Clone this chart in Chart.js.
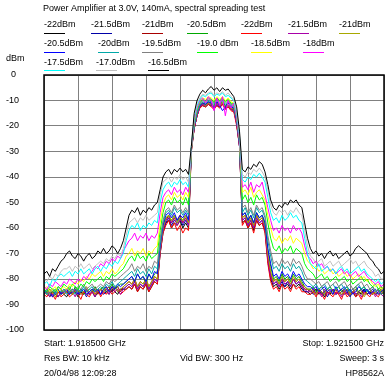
<!DOCTYPE html>
<html>
<head>
<meta charset="utf-8">
<script src="https://cdn.jsdelivr.net/npm/chart.js@4"></script>
<style>
html, body { margin: 0; padding: 0; background: #fff; }
canvas { display: block; }
</style>
</head>
<body>
<canvas id="chart" width="392" height="381"></canvas>
<script>
// sweep: 1.9185 GHz .. 1.9215 GHz, one point every 25 kHz (121 points)
const startKHz = 0, stopKHz = 3000, pointStepKHz = 25;
const yTicks = [0, -10, -20, -30, -40, -50, -60, -70, -80, -90, -100];

const title = "Power Amplifier at 3.0V, 140mA, spectral spreading test";
const names = ["-22dBm", "-21.5dBm", "-21dBm", "-20.5dBm", "-22dBm", "-21.5dBm", "-21dBm",
  "-20.5dBm", "-20dBm", "-19.5dBm", "-19.0 dBm", "-18.5dBm", "-18dBm",
  "-17.5dBm", "-17.0dBm", "-16.5dBm"];
const colors = ["#000000", "#0000a8", "#a80000", "#00a800", "#ff0000", "#a800a8", "#a8a800",
  "#0000ff", "#00a8a8", "#808080", "#00ff00", "#ffff00", "#ff00ff",
  "#00ffff", "#c0c0c0", "#000000"];

// dBm
const trace1 = [
  -86, -85, -87, -85, -86, -87, -85, -86,
  -87, -85, -86, -85, -87, -85, -86, -84, -86, -85, -87, -85, -86, -84, -85, -86, -84, -85, -86, -84, -84,
  -84, -83, -84, -82, -85, -83, -84, -82, -85, -83, -81, -82, -70, -62,
  -58, -57, -60, -58, -59, -57, -60, -58, -60, -30,
  -21, -16, -12.5, -12, -12.5, -11.5, -12, -13, -12, -12.5, -11.5, -13, -12.5, -13.5, -14, -19, -28,
  -58, -57, -60, -58, -61, -57, -59, -58, -61, -73, -80,
  -83, -82, -84, -82, -83, -82, -84, -82, -83, -82, -84, -85, -85,
  -86, -85, -84, -86, -85, -87, -85, -86, -84, -86, -85, -86, -85, -84, -86, -85, -87, -85, -86, -84, -86, -85, -86, -85, -84, -86, -85];
const trace2 = [
  -85, -86, -85, -87, -86, -85, -84, -86,
  -85, -86, -84, -85, -86, -84, -85, -87, -85, -84, -86, -85, -84, -86, -85, -84, -85, -83, -85, -84, -84,
  -83, -82, -83, -81, -84, -82, -83, -81, -84, -82, -80, -81, -69, -61,
  -58, -56, -59, -57, -58, -56, -59, -57, -59, -29,
  -21, -16, -12.5, -11.5, -12, -11, -11.5, -13, -11.5, -12.5, -11, -13, -12, -13.5, -13.5, -19, -28,
  -57, -56, -59, -57, -60, -56, -58, -57, -60, -72, -79,
  -82, -81, -83, -81, -83, -81, -83, -80, -82, -81, -83, -85, -85,
  -84, -86, -85, -84, -86, -85, -87, -85, -84, -86, -85, -84, -86, -85, -87, -85, -84, -86, -85, -84, -86, -85, -84, -86, -85, -84, -86];
const trace3 = [
  -86, -85, -84, -86, -85, -84, -86, -85,
  -84, -86, -84, -85, -84, -86, -85, -84, -86, -85, -84, -86, -84, -85, -84, -83, -85, -84, -83, -85, -83,
  -82, -81, -82, -80, -83, -81, -82, -80, -83, -81, -79, -80, -68, -60,
  -57, -55, -58, -56, -57, -55, -58, -56, -58, -29,
  -21, -16, -12, -11, -11.5, -11, -11.5, -12.5, -11, -12, -11, -12.5, -12, -13, -13.5, -18, -27,
  -56, -55, -58, -56, -59, -55, -57, -56, -59, -71, -78,
  -81, -80, -82, -80, -81, -80, -82, -80, -81, -80, -82, -84, -84,
  -85, -84, -86, -84, -85, -86, -84, -85, -86, -84, -86, -85, -84, -86, -85, -84, -86, -85, -84, -86, -85, -84, -86, -85, -84, -86, -85];
const trace4 = [
  -85, -84, -86, -85, -84, -85, -86, -84,
  -85, -84, -86, -83, -85, -84, -86, -85, -84, -85, -83, -85, -84, -83, -85, -84, -82, -84, -83, -82, -82,
  -81, -80, -79, -81, -78, -80, -79, -82, -78, -80, -78, -77, -67, -59,
  -56, -55, -57, -55, -57, -56, -57, -55, -57, -29,
  -20, -15, -12, -11, -11.5, -10.5, -11, -12, -10.5, -11.5, -10.5, -12, -11, -12.5, -13, -18, -27,
  -55, -54, -57, -55, -58, -54, -56, -55, -58, -69, -75,
  -80, -79, -81, -78, -80, -79, -81, -78, -80, -79, -81, -83, -84,
  -84, -83, -85, -84, -83, -85, -84, -83, -85, -84, -83, -85, -84, -83, -85, -84, -83, -85, -84, -83, -85, -84, -83, -85, -84, -85, -84];
const trace5 = [
  -86, -87, -85, -86, -88, -85, -87, -86,
  -85, -87, -86, -84, -86, -88, -85, -86, -87, -85, -86, -84, -87, -85, -86, -84, -86, -85, -84, -86, -85,
  -84, -83, -84, -82, -85, -83, -84, -82, -85, -83, -81, -82, -70, -62,
  -59, -57, -60, -58, -61, -59, -62, -60, -61, -30,
  -21, -16, -13, -12, -12.5, -11.5, -12.5, -13.5, -12, -13, -11.5, -13.5, -12.5, -14, -14.5, -20, -28,
  -59, -57, -60, -58, -62, -57, -59, -58, -62, -74, -81,
  -84, -83, -85, -82, -84, -83, -85, -82, -84, -83, -85, -85, -86,
  -86, -85, -87, -85, -86, -88, -85, -86, -87, -85, -86, -88, -85, -87, -86, -85, -87, -86, -88, -85, -86, -87, -85, -86, -87, -85, -86];
const trace6 = [
  -86, -85, -87, -86, -85, -87, -85, -86,
  -84, -86, -85, -87, -84, -86, -85, -84, -86, -85, -87, -84, -86, -85, -84, -86, -83, -85, -84, -86, -84,
  -83, -82, -83, -81, -84, -82, -83, -81, -84, -82, -80, -81, -69, -61,
  -57, -56, -58, -56, -59, -57, -58, -56, -59, -29,
  -21, -16, -12.5, -11.5, -12, -11, -12, -13, -11.5, -12.5, -11, -13, -12, -13.5, -14, -19, -28,
  -57, -56, -59, -57, -60, -56, -58, -57, -60, -72, -79,
  -82, -81, -83, -80, -82, -81, -83, -80, -82, -81, -83, -84, -85,
  -85, -84, -86, -85, -87, -84, -86, -85, -84, -86, -85, -87, -84, -86, -85, -84, -86, -85, -87, -85, -84, -86, -85, -87, -85, -86, -87];
const trace7 = [
  -85, -86, -84, -85, -87, -85, -84, -86,
  -85, -84, -86, -85, -84, -86, -85, -83, -85, -84, -86, -85, -84, -85, -83, -85, -84, -83, -85, -84, -83,
  -82, -81, -82, -80, -83, -81, -82, -80, -83, -81, -79, -80, -68, -60,
  -56, -55, -57, -55, -58, -56, -57, -55, -58, -29,
  -20, -15, -12, -11, -12, -11, -11.5, -12.5, -11, -12, -11, -12.5, -12, -13, -13.5, -18, -27,
  -56, -55, -58, -56, -59, -55, -57, -56, -59, -70, -77,
  -81, -80, -82, -79, -81, -80, -82, -79, -81, -80, -82, -83, -84,
  -84, -85, -86, -84, -85, -86, -84, -85, -86, -84, -85, -86, -85, -84, -86, -85, -84, -86, -85, -87, -85, -84, -86, -85, -86, -84, -86];
const trace8 = [
  -86, -84, -85, -87, -85, -84, -86, -85,
  -84, -86, -85, -84, -86, -85, -84, -86, -85, -84, -85, -84, -86, -84, -83, -85, -83, -84, -82, -83, -82,
  -81, -80, -79, -81, -78, -80, -79, -81, -78, -80, -77, -78, -67, -59,
  -55, -54, -56, -54, -57, -55, -56, -54, -57, -29,
  -20, -15, -12, -11, -11.5, -10.5, -11, -13, -10.5, -12, -14, -12.5, -11, -12.5, -13, -18, -27,
  -55, -54, -57, -55, -58, -54, -56, -55, -58, -68, -74,
  -79, -78, -80, -77, -79, -78, -80, -77, -79, -78, -80, -82, -83,
  -83, -84, -83, -85, -84, -83, -85, -84, -86, -83, -85, -84, -83, -85, -84, -86, -85, -83, -84, -85, -84, -86, -85, -84, -86, -85, -84];
const trace9 = [
  -84, -86, -85, -84, -86, -84, -85, -84,
  -86, -85, -84, -86, -84, -85, -83, -85, -84, -83, -85, -84, -83, -84, -82, -83, -81, -83, -82, -81, -80,
  -79, -78, -77, -79, -76, -78, -77, -79, -76, -78, -75, -76, -66, -58,
  -54, -53, -55, -52, -54, -53, -55, -53, -55, -29,
  -20, -15, -11.5, -10.5, -11, -10, -10.5, -11.5, -10, -11, -10, -11.5, -10.5, -12, -12.5, -17, -26,
  -54, -52, -55, -53, -56, -52, -54, -53, -56, -65, -71,
  -76, -75, -77, -74, -76, -75, -77, -74, -76, -75, -77, -80, -81,
  -82, -83, -82, -84, -83, -82, -84, -83, -82, -84, -83, -82, -84, -83, -85, -84, -83, -82, -84, -83, -85, -84, -83, -85, -84, -86, -85];
const trace10 = [
  -85, -84, -86, -84, -85, -83, -84, -85,
  -84, -83, -85, -84, -83, -84, -82, -84, -83, -82, -84, -83, -82, -83, -81, -82, -80, -81, -80, -79, -78,
  -77, -76, -74, -77, -75, -76, -74, -77, -75, -76, -73, -74, -64, -57,
  -53, -52, -54, -51, -53, -52, -54, -52, -54, -29,
  -19, -14, -11, -10, -10.5, -9.5, -10, -11, -9.5, -10.5, -9.5, -11, -10, -11.5, -12, -17, -26,
  -52, -51, -54, -52, -55, -51, -53, -52, -55, -63, -69,
  -74, -73, -75, -72, -74, -73, -75, -72, -74, -73, -75, -78, -80,
  -80, -81, -82, -81, -83, -82, -81, -83, -82, -81, -83, -82, -81, -83, -82, -84, -83, -82, -81, -83, -82, -84, -83, -85, -84, -83, -85];
const trace11 = [
  -84, -85, -83, -84, -85, -83, -84, -82,
  -83, -84, -82, -83, -84, -82, -83, -81, -82, -80, -81, -80, -79, -81, -79, -80, -78, -79, -78, -77, -76,
  -74, -72, -71, -73, -70, -72, -71, -73, -70, -72, -71, -70, -61, -54,
  -50, -49, -51, -48, -50, -49, -51, -48, -51, -29,
  -19, -14, -10.5, -9.5, -10, -9, -9.5, -10.5, -9, -10, -9, -10.5, -9.5, -11, -11.5, -16, -25,
  -49, -47, -50, -48, -51, -47, -49, -48, -51, -58, -64,
  -68, -69, -67, -70, -68, -69, -67, -70, -68, -69, -70, -74, -76,
  -77, -78, -80, -79, -78, -80, -79, -81, -80, -79, -81, -80, -79, -81, -80, -82, -81, -80, -79, -81, -80, -82, -83, -82, -84, -83, -84];
const trace12 = [
  -84, -83, -85, -84, -83, -85, -84, -83,
  -84, -82, -83, -81, -82, -80, -81, -79, -80, -78, -79, -78, -77, -79, -77, -78, -76, -78, -77, -75, -74,
  -71, -70, -68, -71, -69, -70, -68, -71, -69, -70, -68, -67, -58, -51,
  -48, -47, -49, -46, -48, -47, -49, -46, -48, -29,
  -18, -13, -10, -9, -9.5, -8.5, -9, -10, -8.5, -9.5, -8.5, -10, -9, -10.5, -11, -16, -25,
  -46, -45, -47, -44, -48, -46, -45, -47, -49, -55, -60,
  -64, -65, -63, -66, -64, -65, -63, -66, -64, -65, -66, -70, -73,
  -74, -76, -75, -77, -76, -78, -77, -76, -78, -77, -79, -78, -77, -79, -78, -80, -79, -78, -80, -79, -81, -80, -82, -83, -82, -84, -83];
const trace13 = [
  -83, -84, -82, -83, -81, -82, -83, -81,
  -82, -80, -81, -82, -80, -81, -79, -80, -78, -77, -75, -76, -74, -75, -73, -74, -72, -73, -71, -72, -69,
  -67, -65, -64, -62, -65, -63, -64, -62, -65, -63, -64, -62, -54, -48,
  -46, -45, -47, -44, -46, -45, -47, -44, -46, -29,
  -18, -13, -10, -9, -11, -8.5, -10, -14, -9, -12, -8.5, -16, -10, -13, -11, -16, -25,
  -44, -43, -45, -42, -46, -43, -44, -42, -47, -52, -57,
  -61, -60, -62, -59, -61, -60, -62, -59, -61, -60, -62, -67, -71,
  -72, -74, -73, -75, -74, -76, -75, -77, -76, -78, -77, -76, -78, -77, -79, -78, -77, -79, -78, -77, -79, -80, -81, -82, -81, -83, -82];
const trace14 = [
  -82, -81, -83, -80, -81, -79, -78, -79,
  -78, -77, -79, -77, -78, -76, -78, -77, -76, -78, -76, -75, -77, -75, -76, -74, -75, -73, -74, -72, -70,
  -65, -61, -59, -60, -58, -61, -59, -60, -58, -59, -57, -58, -50, -45,
  -43, -42, -44, -42, -43, -41, -43, -42, -44, -28,
  -17, -12, -9.5, -8, -8.5, -7.5, -7, -8.5, -7.5, -8, -7, -8.5, -8, -9, -10, -15, -24,
  -41, -42, -40, -41, -39, -40, -38.5, -40, -42, -48, -54,
  -57, -56, -58, -55, -57, -56, -54, -56, -55, -57, -58, -64, -70,
  -74, -75, -76, -74, -77, -76, -75, -77, -76, -78, -76, -75, -77, -76, -78, -77, -76, -75, -77, -76, -78, -79, -80, -81, -80, -82, -81];
const trace15 = [
  -80, -81, -79, -80, -78, -79, -77, -76,
  -76, -75, -77, -75, -76, -74, -76, -75, -74, -76, -75, -74, -73, -74, -72, -73, -71, -72, -70, -71, -68,
  -63, -58, -57, -56, -58, -56, -57, -55, -57, -56, -55, -54, -47, -42,
  -41, -40, -42, -40, -41, -39, -41, -40, -42, -28,
  -16, -11, -9, -7.5, -8, -7, -6.5, -8, -7, -7.5, -6.5, -8, -7, -8.5, -9.5, -14, -23,
  -39, -40, -38, -39, -37, -38, -36.5, -38, -40, -45, -51,
  -54, -55, -53, -54, -53, -55, -53, -54, -52, -54, -55, -61, -67,
  -71, -72, -74, -73, -72, -75, -74, -73, -75, -74, -73, -75, -74, -73, -72, -74, -73, -75, -74, -73, -75, -76, -77, -79, -78, -80, -80];
const trace16 = [
  -78, -77, -79, -76, -77, -75, -73, -72,
  -70, -69, -71, -72, -70, -71, -73, -71, -70, -72, -71, -69, -70, -68, -70, -69, -67, -68, -70, -68, -65,
  -60, -55, -53, -54, -52, -55, -53, -54, -52, -53, -51, -50, -45, -40,
  -38, -37, -39, -37, -38, -36.5, -38, -37, -39, -28,
  -15, -10, -7.5, -6, -7, -5.5, -4.5, -6, -5, -6.5, -5, -6, -5.5, -7, -8.5, -12.5, -22,
  -37, -38, -36, -37, -35, -36, -34, -35, -38, -43, -49,
  -52, -53, -51, -52, -50, -51, -49, -50, -49, -51, -52, -58, -64,
  -68, -70, -69, -71, -70, -72, -70, -69, -71, -70, -72, -71, -70, -69, -71, -70, -68, -67, -68, -69, -70, -72, -73, -75, -76, -78, -77];

const traces = [trace1, trace2, trace3, trace4, trace5, trace6, trace7, trace8,
  trace9, trace10, trace11, trace12, trace13, trace14, trace15, trace16];

const footer = [
  ["Start: 1.918500 GHz", "", "Stop: 1.921500 GHz"],
  ["Res BW: 10 kHz", "Vid BW: 300 Hz", "Sweep: 3 s"],
  ["20/04/98 12:09:28", "", "HP8562A"]
];

const FONT = "9px 'Liberation Sans', Arial, sans-serif";

// legend slots: x of each entry, row index
const legendSlots = [
  [44, 0], [91, 0], [142, 0], [187, 0], [241, 0], [288, 0], [339, 0],
  [44, 1], [98, 1], [142, 1], [197, 1], [251, 1], [303, 1],
  [44, 2], [96, 2], [148, 2]
];
const legendRowY = [26.5, 45.5, 65];
const legendLineY = [33.5, 52.5, 70.5];

const textPlugin = {
  id: 'texts',
  afterDraw(chart) {
    const ctx = chart.ctx;
    const a = chart.chartArea;
    ctx.save();
    ctx.font = FONT;
    ctx.fillStyle = '#000';
    ctx.textBaseline = 'alphabetic';
    ctx.textAlign = 'left';
    ctx.fillText(title, 43, 11);
    ctx.fillText('dBm', 6, 61);
    names.forEach((n, i) => {
      const [x, row] = legendSlots[i];
      ctx.fillStyle = '#000';
      ctx.fillText(n, x, legendRowY[row]);
      ctx.strokeStyle = colors[i];
      ctx.lineWidth = 1;
      ctx.beginPath();
      ctx.moveTo(x, legendLineY[row]);
      ctx.lineTo(x + 21, legendLineY[row]);
      ctx.stroke();
    });
    // frame
    ctx.strokeStyle = '#000';
    ctx.lineWidth = 1.5;
    ctx.strokeRect(a.left, a.top, a.right - a.left, a.bottom - a.top);
    // footer
    ctx.fillStyle = '#000';
    const rows = [345.5, 361, 375.5];
    footer.forEach((r, i) => {
      ctx.textAlign = 'left';
      ctx.fillText(r[0], a.left, rows[i]);
      if (r[1]) ctx.fillText(r[1], 180, rows[i]);
      ctx.textAlign = 'right';
      ctx.fillText(r[2], a.right, rows[i]);
    });
    // sanity check on the typed arrays
    const bad = traces.map((t, i) => t.length !== 121 ? (i + 1) + ':' + t.length : null).filter(Boolean);
    if (bad.length) { ctx.fillStyle = 'red'; ctx.textAlign = 'left'; ctx.fillText('LEN ' + bad.join(' '), 60, 120); }
    ctx.restore();
  }
};

const datasets = traces.map((t, i) => ({
  label: names[i],
  data: t.map((v, j) => ({ x: startKHz + j * pointStepKHz, y: v })),
  borderColor: colors[i],
  borderWidth: 1,
  pointRadius: 0,
  tension: 0,
  order: traces.length - i
}));

new Chart(document.getElementById('chart').getContext('2d'), {
  type: 'line',
  data: { datasets: datasets },
  options: {
    responsive: false,
    animation: false,
    layout: { padding: { top: 75, right: 8, bottom: 51, left: 6 } },
    plugins: { legend: { display: false }, tooltip: { enabled: false }, title: { display: false } },
    scales: {
      x: {
        type: 'linear',
        min: startKHz,
        max: stopKHz,
        ticks: { display: false, stepSize: 300 },
        grid: { color: '#808080', lineWidth: 1, drawTicks: false },
        border: { display: false },
        afterFit(s) { s.height = 0; }
      },
      y: {
        min: -100,
        max: 0,
        afterBuildTicks(s) { s.ticks = yTicks.map(v => ({ value: v })); },
        ticks: {
          crossAlign: 'far',
          color: '#000',
          font: { family: "'Liberation Sans', Arial, sans-serif", size: 9 },
          callback: v => (v === 0 ? '  0' : String(v))
        },
        grid: { color: '#808080', lineWidth: 1, drawTicks: false },
        border: { display: false },
        afterFit(s) { s.width = 38; }
      }
    }
  },
  plugins: [textPlugin]
});
</script>
</body>
</html>
